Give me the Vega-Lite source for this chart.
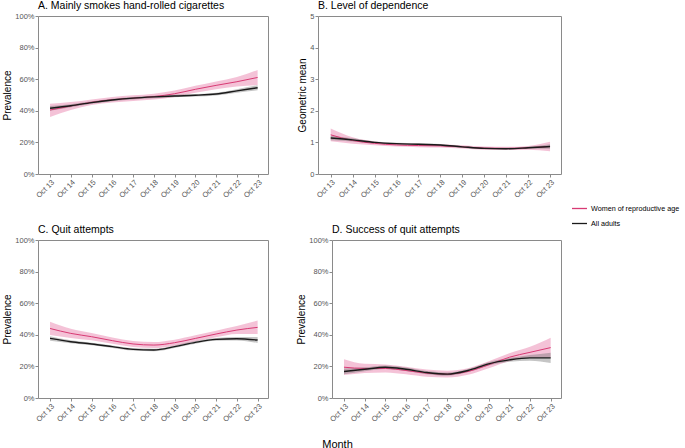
{
  "$schema": "https://vega.github.io/schema/vega-lite/v6.json",
  "padding": {"left": 2, "top": 0, "right": 0, "bottom": 0},
  "background": "white",
  "datasets": {
    "trends": [
      {"panel": "A", "group": "Women of reproductive age", "year": 2013, "est": 40.5, "lo": 36.0, "hi": 44.4},
      {"panel": "A", "group": "Women of reproductive age", "year": 2014, "est": 43.0, "lo": 40.5, "hi": 45.5},
      {"panel": "A", "group": "Women of reproductive age", "year": 2015, "est": 45.4, "lo": 43.6, "hi": 47.2},
      {"panel": "A", "group": "Women of reproductive age", "year": 2016, "est": 47.0, "lo": 45.2, "hi": 48.8},
      {"panel": "A", "group": "Women of reproductive age", "year": 2017, "est": 48.0, "lo": 46.2, "hi": 49.8},
      {"panel": "A", "group": "Women of reproductive age", "year": 2018, "est": 49.0, "lo": 47.2, "hi": 50.8},
      {"panel": "A", "group": "Women of reproductive age", "year": 2019, "est": 50.8, "lo": 48.8, "hi": 52.8},
      {"panel": "A", "group": "Women of reproductive age", "year": 2020, "est": 53.6, "lo": 51.4, "hi": 55.8},
      {"panel": "A", "group": "Women of reproductive age", "year": 2021, "est": 56.1, "lo": 53.6, "hi": 58.6},
      {"panel": "A", "group": "Women of reproductive age", "year": 2022, "est": 58.4, "lo": 55.4, "hi": 61.4},
      {"panel": "A", "group": "Women of reproductive age", "year": 2023, "est": 61.1, "lo": 56.3, "hi": 65.9},
      {"panel": "A", "group": "All adults", "year": 2013, "est": 41.6, "lo": 40.1, "hi": 43.1},
      {"panel": "A", "group": "All adults", "year": 2014, "est": 43.2, "lo": 42.2, "hi": 44.2},
      {"panel": "A", "group": "All adults", "year": 2015, "est": 45.2, "lo": 44.4, "hi": 46.0},
      {"panel": "A", "group": "All adults", "year": 2016, "est": 46.8, "lo": 46.0, "hi": 47.6},
      {"panel": "A", "group": "All adults", "year": 2017, "est": 48.0, "lo": 47.2, "hi": 48.8},
      {"panel": "A", "group": "All adults", "year": 2018, "est": 48.8, "lo": 48.0, "hi": 49.6},
      {"panel": "A", "group": "All adults", "year": 2019, "est": 49.4, "lo": 48.6, "hi": 50.2},
      {"panel": "A", "group": "All adults", "year": 2020, "est": 49.8, "lo": 49.0, "hi": 50.6},
      {"panel": "A", "group": "All adults", "year": 2021, "est": 50.6, "lo": 49.7, "hi": 51.5},
      {"panel": "A", "group": "All adults", "year": 2022, "est": 52.6, "lo": 51.5, "hi": 53.7},
      {"panel": "A", "group": "All adults", "year": 2023, "est": 54.6, "lo": 53.0, "hi": 56.2},
      {"panel": "B", "group": "Women of reproductive age", "year": 2013, "est": 1.24, "lo": 1.04, "hi": 1.44},
      {"panel": "B", "group": "Women of reproductive age", "year": 2014, "est": 1.06, "lo": 0.96, "hi": 1.16},
      {"panel": "B", "group": "Women of reproductive age", "year": 2015, "est": 0.97, "lo": 0.91, "hi": 1.03},
      {"panel": "B", "group": "Women of reproductive age", "year": 2016, "est": 0.92, "lo": 0.87, "hi": 0.97},
      {"panel": "B", "group": "Women of reproductive age", "year": 2017, "est": 0.90, "lo": 0.85, "hi": 0.95},
      {"panel": "B", "group": "Women of reproductive age", "year": 2018, "est": 0.89, "lo": 0.84, "hi": 0.94},
      {"panel": "B", "group": "Women of reproductive age", "year": 2019, "est": 0.86, "lo": 0.81, "hi": 0.91},
      {"panel": "B", "group": "Women of reproductive age", "year": 2020, "est": 0.82, "lo": 0.77, "hi": 0.87},
      {"panel": "B", "group": "Women of reproductive age", "year": 2021, "est": 0.81, "lo": 0.76, "hi": 0.86},
      {"panel": "B", "group": "Women of reproductive age", "year": 2022, "est": 0.83, "lo": 0.77, "hi": 0.89},
      {"panel": "B", "group": "Women of reproductive age", "year": 2023, "est": 0.87, "lo": 0.72, "hi": 1.02},
      {"panel": "B", "group": "All adults", "year": 2013, "est": 1.14, "lo": 1.07, "hi": 1.21},
      {"panel": "B", "group": "All adults", "year": 2014, "est": 1.08, "lo": 1.03, "hi": 1.13},
      {"panel": "B", "group": "All adults", "year": 2015, "est": 1.00, "lo": 0.97, "hi": 1.03},
      {"panel": "B", "group": "All adults", "year": 2016, "est": 0.96, "lo": 0.93, "hi": 0.99},
      {"panel": "B", "group": "All adults", "year": 2017, "est": 0.94, "lo": 0.91, "hi": 0.97},
      {"panel": "B", "group": "All adults", "year": 2018, "est": 0.92, "lo": 0.89, "hi": 0.95},
      {"panel": "B", "group": "All adults", "year": 2019, "est": 0.86, "lo": 0.83, "hi": 0.89},
      {"panel": "B", "group": "All adults", "year": 2020, "est": 0.81, "lo": 0.78, "hi": 0.84},
      {"panel": "B", "group": "All adults", "year": 2021, "est": 0.80, "lo": 0.77, "hi": 0.83},
      {"panel": "B", "group": "All adults", "year": 2022, "est": 0.83, "lo": 0.80, "hi": 0.86},
      {"panel": "B", "group": "All adults", "year": 2023, "est": 0.87, "lo": 0.80, "hi": 0.94},
      {"panel": "C", "group": "Women of reproductive age", "year": 2013, "est": 44.0, "lo": 39.8, "hi": 48.2},
      {"panel": "C", "group": "Women of reproductive age", "year": 2014, "est": 40.9, "lo": 38.0, "hi": 43.8},
      {"panel": "C", "group": "Women of reproductive age", "year": 2015, "est": 38.8, "lo": 36.5, "hi": 41.1},
      {"panel": "C", "group": "Women of reproductive age", "year": 2016, "est": 36.3, "lo": 34.3, "hi": 38.3},
      {"panel": "C", "group": "Women of reproductive age", "year": 2017, "est": 34.2, "lo": 32.3, "hi": 36.1},
      {"panel": "C", "group": "Women of reproductive age", "year": 2018, "est": 33.5, "lo": 31.6, "hi": 35.4},
      {"panel": "C", "group": "Women of reproductive age", "year": 2019, "est": 35.0, "lo": 33.1, "hi": 36.9},
      {"panel": "C", "group": "Women of reproductive age", "year": 2020, "est": 37.7, "lo": 35.7, "hi": 39.7},
      {"panel": "C", "group": "Women of reproductive age", "year": 2021, "est": 40.5, "lo": 38.4, "hi": 42.6},
      {"panel": "C", "group": "Women of reproductive age", "year": 2022, "est": 43.0, "lo": 40.5, "hi": 45.5},
      {"panel": "C", "group": "Women of reproductive age", "year": 2023, "est": 44.7, "lo": 40.5, "hi": 49.0},
      {"panel": "C", "group": "All adults", "year": 2013, "est": 37.7, "lo": 36.3, "hi": 39.1},
      {"panel": "C", "group": "All adults", "year": 2014, "est": 35.6, "lo": 34.7, "hi": 36.5},
      {"panel": "C", "group": "All adults", "year": 2015, "est": 34.2, "lo": 33.4, "hi": 35.0},
      {"panel": "C", "group": "All adults", "year": 2016, "est": 32.5, "lo": 31.7, "hi": 33.3},
      {"panel": "C", "group": "All adults", "year": 2017, "est": 30.8, "lo": 30.0, "hi": 31.6},
      {"panel": "C", "group": "All adults", "year": 2018, "est": 30.4, "lo": 29.6, "hi": 31.2},
      {"panel": "C", "group": "All adults", "year": 2019, "est": 32.5, "lo": 31.7, "hi": 33.3},
      {"panel": "C", "group": "All adults", "year": 2020, "est": 35.2, "lo": 34.4, "hi": 36.0},
      {"panel": "C", "group": "All adults", "year": 2021, "est": 37.1, "lo": 36.2, "hi": 38.0},
      {"panel": "C", "group": "All adults", "year": 2022, "est": 37.5, "lo": 36.4, "hi": 38.6},
      {"panel": "C", "group": "All adults", "year": 2023, "est": 36.7, "lo": 34.8, "hi": 38.6},
      {"panel": "D", "group": "Women of reproductive age", "year": 2013, "est": 19.5, "lo": 14.5, "hi": 24.5},
      {"panel": "D", "group": "Women of reproductive age", "year": 2014, "est": 18.7, "lo": 15.8, "hi": 21.6},
      {"panel": "D", "group": "Women of reproductive age", "year": 2015, "est": 18.7, "lo": 16.2, "hi": 21.2},
      {"panel": "D", "group": "Women of reproductive age", "year": 2016, "est": 17.4, "lo": 15.0, "hi": 19.8},
      {"panel": "D", "group": "Women of reproductive age", "year": 2017, "est": 15.7, "lo": 13.4, "hi": 18.0},
      {"panel": "D", "group": "Women of reproductive age", "year": 2018, "est": 15.1, "lo": 12.9, "hi": 17.3},
      {"panel": "D", "group": "Women of reproductive age", "year": 2019, "est": 16.8, "lo": 14.7, "hi": 18.9},
      {"panel": "D", "group": "Women of reproductive age", "year": 2020, "est": 21.0, "lo": 18.8, "hi": 23.2},
      {"panel": "D", "group": "Women of reproductive age", "year": 2021, "est": 25.8, "lo": 23.3, "hi": 28.3},
      {"panel": "D", "group": "Women of reproductive age", "year": 2022, "est": 28.9, "lo": 25.4, "hi": 32.4},
      {"panel": "D", "group": "Women of reproductive age", "year": 2023, "est": 31.9, "lo": 25.6, "hi": 38.2},
      {"panel": "D", "group": "All adults", "year": 2013, "est": 16.8, "lo": 15.0, "hi": 18.6},
      {"panel": "D", "group": "All adults", "year": 2014, "est": 18.2, "lo": 17.0, "hi": 19.4},
      {"panel": "D", "group": "All adults", "year": 2015, "est": 19.5, "lo": 18.4, "hi": 20.6},
      {"panel": "D", "group": "All adults", "year": 2016, "est": 18.2, "lo": 17.1, "hi": 19.3},
      {"panel": "D", "group": "All adults", "year": 2017, "est": 16.1, "lo": 15.1, "hi": 17.1},
      {"panel": "D", "group": "All adults", "year": 2018, "est": 15.1, "lo": 14.1, "hi": 16.1},
      {"panel": "D", "group": "All adults", "year": 2019, "est": 17.4, "lo": 16.4, "hi": 18.4},
      {"panel": "D", "group": "All adults", "year": 2020, "est": 21.6, "lo": 20.5, "hi": 22.7},
      {"panel": "D", "group": "All adults", "year": 2021, "est": 24.1, "lo": 22.9, "hi": 25.3},
      {"panel": "D", "group": "All adults", "year": 2022, "est": 25.4, "lo": 23.6, "hi": 27.2},
      {"panel": "D", "group": "All adults", "year": 2023, "est": 25.4, "lo": 22.1, "hi": 28.7}
    ]
  },
  "data": {"name": "trends"},
  "spacing": 24,
  "vconcat": [
    {
      "bounds": "flush",
      "spacing": 50,
      "hconcat": [
        {
          "width": 230, "height": 158,
          "title": {"text": "A. Mainly smokes hand-rolled cigarettes"},
          "transform": [{"filter": "datum.panel === 'A'"}],
          "encoding": {
            "x": {"field": "year", "type": "quantitative", "title": null,
              "scale": {"domain": [2012.42, 2023.5], "nice": false, "zero": false},
              "axis": {"values": [2013, 2014, 2015, 2016, 2017, 2018, 2019, 2020, 2021, 2022, 2023], "tickCount": 30, "labelExpr": "'Oct ' + slice(toString(datum.value), 2)", "labelAngle": -45, "labelOverlap": false}},
            "y": {"field": "est", "type": "quantitative", "title": "Prevalence", "scale": {"domain": [0, 100], "nice": false}, "axis": {"values": [0, 20, 40, 60, 80, 100], "tickCount": 30, "labelExpr": "datum.value + '%'", "labelOverlap": false}}
          },
          "layer": [
            {"transform": [{"filter": "datum.group === 'Women of reproductive age'"}],
             "mark": {"type": "area", "interpolate": "monotone", "opacity": 0.4, "color": "#e4679a"},
             "encoding": {"y": {"field": "lo", "type": "quantitative", "title": "Prevalence", "axis": {"values": [0, 20, 40, 60, 80, 100], "tickCount": 30, "labelExpr": "datum.value + '%'", "labelOverlap": false}}, "y2": {"field": "hi"}}},
            {"transform": [{"filter": "datum.group === 'All adults'"}],
             "mark": {"type": "area", "interpolate": "monotone", "opacity": 0.4, "color": "#6e6e6e"},
             "encoding": {"y": {"field": "lo", "type": "quantitative", "title": "Prevalence", "axis": {"values": [0, 20, 40, 60, 80, 100], "tickCount": 30, "labelExpr": "datum.value + '%'", "labelOverlap": false}}, "y2": {"field": "hi"}}},
            {"transform": [{"filter": "datum.group === 'Women of reproductive age'"}],
             "mark": {"type": "line", "interpolate": "monotone", "strokeWidth": 1},
             "encoding": {
               "stroke": {"field": "group", "type": "nominal", "title": null, "scale": {"domain": ["Women of reproductive age", "All adults"], "range": ["#d83a74", "#1a1a1a"]},
                 "legend": {"orient": "none", "legendX": 533, "legendY": 184}}}},
            {"transform": [{"filter": "datum.group === 'All adults'"}],
             "mark": {"type": "line", "interpolate": "monotone", "strokeWidth": 1.4},
             "encoding": {"stroke": {"field": "group", "type": "nominal", "title": null}}}
          ]
        },
        {
          "width": 243, "height": 158,
          "title": {"text": "B. Level of dependence"},
          "transform": [{"filter": "datum.panel === 'B'"}],
          "encoding": {
            "x": {"field": "year", "type": "quantitative", "title": null,
              "scale": {"domain": [2012.42, 2023.5], "nice": false, "zero": false},
              "axis": {"values": [2013, 2014, 2015, 2016, 2017, 2018, 2019, 2020, 2021, 2022, 2023], "tickCount": 30, "labelExpr": "'Oct ' + slice(toString(datum.value), 2)", "labelAngle": -45, "labelOverlap": false}},
            "y": {"field": "est", "type": "quantitative", "title": "Geometric mean", "scale": {"domain": [0, 5], "nice": false}, "axis": {"values": [0, 1, 2, 3, 4, 5], "tickCount": 30, "format": "d", "labelOverlap": false}}
          },
          "layer": [
            {"transform": [{"filter": "datum.group === 'Women of reproductive age'"}],
             "mark": {"type": "area", "interpolate": "monotone", "opacity": 0.4, "color": "#e4679a"},
             "encoding": {"y": {"field": "lo", "type": "quantitative", "title": "Geometric mean", "axis": {"values": [0, 1, 2, 3, 4, 5], "tickCount": 30, "format": "d", "labelOverlap": false}}, "y2": {"field": "hi"}}},
            {"transform": [{"filter": "datum.group === 'All adults'"}],
             "mark": {"type": "area", "interpolate": "monotone", "opacity": 0.4, "color": "#6e6e6e"},
             "encoding": {"y": {"field": "lo", "type": "quantitative", "title": "Geometric mean", "axis": {"values": [0, 1, 2, 3, 4, 5], "tickCount": 30, "format": "d", "labelOverlap": false}}, "y2": {"field": "hi"}}},
            {"transform": [{"filter": "datum.group === 'Women of reproductive age'"}],
             "mark": {"type": "line", "interpolate": "monotone", "strokeWidth": 1},
             "encoding": {"stroke": {"field": "group", "type": "nominal", "title": null}}},
            {"transform": [{"filter": "datum.group === 'All adults'"}],
             "mark": {"type": "line", "interpolate": "monotone", "strokeWidth": 1.4},
             "encoding": {"stroke": {"field": "group", "type": "nominal", "title": null}}}
          ]
        }
      ]
    },
    {
      "bounds": "flush",
      "spacing": 64,
      "hconcat": [
        {
          "width": 230, "height": 158,
          "title": {"text": "C. Quit attempts"},
          "transform": [{"filter": "datum.panel === 'C'"}],
          "encoding": {
            "x": {"field": "year", "type": "quantitative", "title": "Month",
              "scale": {"domain": [2012.42, 2023.5], "nice": false, "zero": false},
              "axis": {"values": [2013, 2014, 2015, 2016, 2017, 2018, 2019, 2020, 2021, 2022, 2023], "tickCount": 30, "labelExpr": "'Oct ' + slice(toString(datum.value), 2)", "labelAngle": -45, "labelOverlap": false, "titleFontSize": 11, "titleX": 299, "titleY": 46, "titleAnchor": "middle", "titleBaseline": "middle"}},
            "y": {"field": "est", "type": "quantitative", "title": "Prevalence", "scale": {"domain": [0, 100], "nice": false}, "axis": {"values": [0, 20, 40, 60, 80, 100], "tickCount": 30, "labelExpr": "datum.value + '%'", "labelOverlap": false}}
          },
          "layer": [
            {"transform": [{"filter": "datum.group === 'Women of reproductive age'"}],
             "mark": {"type": "area", "interpolate": "monotone", "opacity": 0.4, "color": "#e4679a"},
             "encoding": {"y": {"field": "lo", "type": "quantitative", "title": "Prevalence", "axis": {"values": [0, 20, 40, 60, 80, 100], "tickCount": 30, "labelExpr": "datum.value + '%'", "labelOverlap": false}}, "y2": {"field": "hi"}}},
            {"transform": [{"filter": "datum.group === 'All adults'"}],
             "mark": {"type": "area", "interpolate": "monotone", "opacity": 0.4, "color": "#6e6e6e"},
             "encoding": {"y": {"field": "lo", "type": "quantitative", "title": "Prevalence", "axis": {"values": [0, 20, 40, 60, 80, 100], "tickCount": 30, "labelExpr": "datum.value + '%'", "labelOverlap": false}}, "y2": {"field": "hi"}}},
            {"transform": [{"filter": "datum.group === 'Women of reproductive age'"}],
             "mark": {"type": "line", "interpolate": "monotone", "strokeWidth": 1},
             "encoding": {"stroke": {"field": "group", "type": "nominal", "title": null}}},
            {"transform": [{"filter": "datum.group === 'All adults'"}],
             "mark": {"type": "line", "interpolate": "monotone", "strokeWidth": 1.4},
             "encoding": {"stroke": {"field": "group", "type": "nominal", "title": null}}}
          ]
        },
        {
          "width": 229, "height": 158,
          "title": {"text": "D. Success of quit attempts"},
          "transform": [{"filter": "datum.panel === 'D'"}],
          "encoding": {
            "x": {"field": "year", "type": "quantitative", "title": null,
              "scale": {"domain": [2012.42, 2023.5], "nice": false, "zero": false},
              "axis": {"values": [2013, 2014, 2015, 2016, 2017, 2018, 2019, 2020, 2021, 2022, 2023], "tickCount": 30, "labelExpr": "'Oct ' + slice(toString(datum.value), 2)", "labelAngle": -45, "labelOverlap": false}},
            "y": {"field": "est", "type": "quantitative", "title": "Prevalence", "scale": {"domain": [0, 100], "nice": false}, "axis": {"values": [0, 20, 40, 60, 80, 100], "tickCount": 30, "labelExpr": "datum.value + '%'", "labelOverlap": false}}
          },
          "layer": [
            {"transform": [{"filter": "datum.group === 'Women of reproductive age'"}],
             "mark": {"type": "area", "interpolate": "monotone", "opacity": 0.4, "color": "#e4679a"},
             "encoding": {"y": {"field": "lo", "type": "quantitative", "title": "Prevalence", "axis": {"values": [0, 20, 40, 60, 80, 100], "tickCount": 30, "labelExpr": "datum.value + '%'", "labelOverlap": false}}, "y2": {"field": "hi"}}},
            {"transform": [{"filter": "datum.group === 'All adults'"}],
             "mark": {"type": "area", "interpolate": "monotone", "opacity": 0.4, "color": "#6e6e6e"},
             "encoding": {"y": {"field": "lo", "type": "quantitative", "title": "Prevalence", "axis": {"values": [0, 20, 40, 60, 80, 100], "tickCount": 30, "labelExpr": "datum.value + '%'", "labelOverlap": false}}, "y2": {"field": "hi"}}},
            {"transform": [{"filter": "datum.group === 'Women of reproductive age'"}],
             "mark": {"type": "line", "interpolate": "monotone", "strokeWidth": 1},
             "encoding": {"stroke": {"field": "group", "type": "nominal", "title": null}}},
            {"transform": [{"filter": "datum.group === 'All adults'"}],
             "mark": {"type": "line", "interpolate": "monotone", "strokeWidth": 1.4},
             "encoding": {"stroke": {"field": "group", "type": "nominal", "title": null}}}
          ]
        }
      ]
    }
  ],
  "config": {
    "font": "Liberation Sans",
    "view": {"stroke": "#8a8a8a", "strokeWidth": 1},
    "axis": {"domain": false, "grid": false, "tickColor": "#8a8a8a", "tickSize": 3, "labelFontSize": 7.5, "labelColor": "#555555", "labelPadding": 1, "labelOverlap": false, "titleFontSize": 10, "titleFontWeight": "normal", "titleColor": "#000000", "titlePadding": 2},
    "title": {"fontSize": 10.5, "fontWeight": "normal", "anchor": "start", "frame": "group", "offset": 1, "color": "#000000"},
    "legend": {"symbolType": "stroke", "symbolSize": 225, "symbolStrokeWidth": 1.3, "labelFontSize": 7.2, "labelColor": "#000000", "rowPadding": 3, "labelOffset": 3, "padding": 0}
  }
}
